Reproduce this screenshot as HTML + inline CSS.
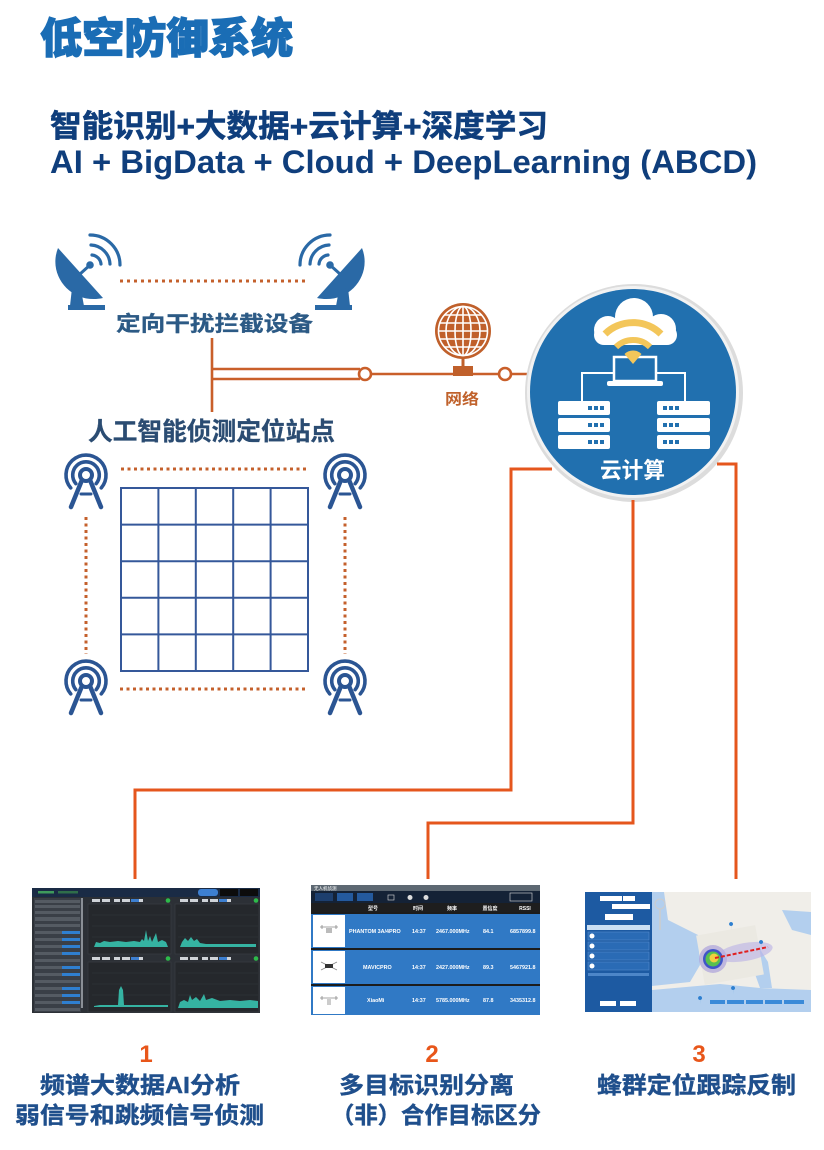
<!DOCTYPE html>
<html><head><meta charset="utf-8"><style>
html,body{margin:0;padding:0;background:#fff;}
svg{display:block;}
text{font-family:"Liberation Sans","Noto Sans CJK SC",sans-serif;font-weight:bold;}
</style></head><body>
<svg width="824" height="1150" viewBox="0 0 824 1150" xmlns="http://www.w3.org/2000/svg">
<rect width="824" height="1150" fill="#fff"/>

<!-- Titles -->
<text x="40" y="53" font-size="42" fill="#1a6db5" stroke="#1a6db5" stroke-width="1.2" textLength="253" lengthAdjust="spacingAndGlyphs" style="font-weight:900">低空防御系统</text>
<text x="50" y="137" font-size="31" fill="#0f3e7c" stroke="#0f3e7c" stroke-width="0.6" textLength="498" lengthAdjust="spacingAndGlyphs">智能识别+大数据+云计算+深度学习</text>
<text x="50" y="173" font-size="32" fill="#0f3e7c" textLength="707" lengthAdjust="spacingAndGlyphs">AI + BigData + Cloud + DeepLearning (ABCD)</text>

<!-- Dishes -->
<g>
 <g transform="translate(50,228)" fill="#2a69a6" stroke="#2a69a6">
  <path d="M8,20 C-3,48 22,77 53,70 Z" stroke="none"/>
  <line x1="30" y1="46" x2="40" y2="37" stroke-width="3"/>
  <circle cx="40" cy="37" r="3.8" stroke="none"/>
  <path d="M22,60 L31,62 L34,78 L20,78 Z" stroke="none"/>
  <rect x="18" y="77" width="37" height="5" stroke="none"/>
  <g fill="none" stroke-width="3.2" stroke-linecap="round">
   <path d="M40,7 A30,30 0 0 1 70,37"/>
   <path d="M41,17 A20,20 0 0 1 60,36"/>
   <path d="M42,27 A10,10 0 0 1 51,36"/>
  </g>
 </g>
</g>
<g transform="translate(420,0) scale(-1,1)">
 <g transform="translate(50,228)" fill="#2a69a6" stroke="#2a69a6">
  <path d="M8,20 C-3,48 22,77 53,70 Z" stroke="none"/>
  <line x1="30" y1="46" x2="40" y2="37" stroke-width="3"/>
  <circle cx="40" cy="37" r="3.8" stroke="none"/>
  <path d="M22,60 L31,62 L34,78 L20,78 Z" stroke="none"/>
  <rect x="18" y="77" width="37" height="5" stroke="none"/>
  <g fill="none" stroke-width="3.2" stroke-linecap="round">
   <path d="M40,7 A30,30 0 0 1 70,37"/>
   <path d="M41,17 A20,20 0 0 1 60,36"/>
   <path d="M42,27 A10,10 0 0 1 51,36"/>
  </g>
 </g>
</g>
<line x1="120" y1="281" x2="307" y2="281" stroke="#c4602c" stroke-width="3" stroke-dasharray="3 4"/>
<text x="116" y="331" font-size="21" fill="#2c5a85" stroke="#2c5a85" stroke-width="0.3" textLength="197" lengthAdjust="spacingAndGlyphs">定向干扰拦截设备</text>

<!-- T connector -->
<g stroke="#c95f2a" stroke-width="2.6" fill="none">
 <line x1="212" y1="338" x2="212" y2="412"/>
 <line x1="212" y1="369" x2="360" y2="369"/>
 <line x1="212" y1="379" x2="360" y2="379"/>
 <line x1="371" y1="374" x2="453" y2="374"/>
 <line x1="473" y1="374" x2="499" y2="374"/>
 <line x1="511" y1="374" x2="528" y2="374"/>
</g>
<circle cx="365" cy="374" r="6" fill="#fff" stroke="#c95f2a" stroke-width="2.6"/>
<circle cx="505" cy="374" r="6" fill="#fff" stroke="#c95f2a" stroke-width="2.6"/>

<!-- Globe -->
<g transform="translate(463,331)">
 <circle r="28" fill="#c0602b"/>
 <g fill="none" stroke="#fff" stroke-width="1.6">
  <circle r="24.5"/>
  <ellipse rx="8" ry="24.5"/>
  <ellipse rx="17" ry="24.5"/>
  <line x1="0" y1="-24.5" x2="0" y2="24.5"/>
  <line x1="-19" y1="-16" x2="19" y2="-16"/>
  <line x1="-23.5" y1="-8" x2="23.5" y2="-8"/>
  <line x1="-24.5" y1="0" x2="24.5" y2="0"/>
  <line x1="-23.5" y1="8" x2="23.5" y2="8"/>
  <line x1="-19" y1="16" x2="19" y2="16"/>
 </g>
</g>
<line x1="463" y1="358" x2="463" y2="367" stroke="#c0602b" stroke-width="3"/>
<rect x="453" y="366" width="20" height="10" fill="#c0602b"/>
<text x="445" y="404" font-size="15" fill="#c0622c" textLength="34" lengthAdjust="spacingAndGlyphs">网络</text>

<!-- Cloud circle -->
<circle cx="634" cy="393" r="109" fill="#dcdcdc"/>
<circle cx="633" cy="392" r="106" fill="#f2f2f2"/>
<circle cx="633" cy="392" r="103" fill="#2170af"/>
<g fill="#fff">
 <circle cx="608" cy="330" r="14"/>
 <circle cx="634" cy="317" r="19"/>
 <circle cx="661" cy="329" r="15"/>
 <rect x="594" y="325" width="83" height="20" rx="10"/>
</g>
<rect x="614" y="357" width="42" height="24" fill="#2170af" stroke="#fff" stroke-width="2.5"/>
<rect x="607" y="381" width="56" height="5" rx="2" fill="#fff"/>
<g fill="none" stroke="#f3c65a" stroke-linecap="butt">
 <path d="M605,334 A40,40 0 0 1 661,334" stroke-width="7"/>
 <path d="M616,347 A24,24 0 0 1 650,347" stroke-width="6"/>
</g>
<path d="M633,364 L624.5,354 A12,12 0 0 1 641.5,354 Z" fill="#f3c65a"/>
<g fill="none" stroke="#fff" stroke-width="2">
 <path d="M614,373 H582 V401"/>
 <path d="M656,373 H685 V401"/>
</g>
<g fill="#fff">
 <rect x="558" y="401" width="52" height="14" rx="2"/>
 <rect x="558" y="418" width="52" height="14" rx="2"/>
 <rect x="558" y="435" width="52" height="14" rx="2"/>
 <rect x="657" y="401" width="53" height="14" rx="2"/>
 <rect x="657" y="418" width="53" height="14" rx="2"/>
 <rect x="657" y="435" width="53" height="14" rx="2"/>
</g>
<g fill="#2170af">
 <rect x="588" y="406" width="4" height="4"/><rect x="594" y="406" width="4" height="4"/><rect x="600" y="406" width="4" height="4"/>
 <rect x="588" y="423" width="4" height="4"/><rect x="594" y="423" width="4" height="4"/><rect x="600" y="423" width="4" height="4"/>
 <rect x="588" y="440" width="4" height="4"/><rect x="594" y="440" width="4" height="4"/><rect x="600" y="440" width="4" height="4"/>
 <rect x="663" y="406" width="4" height="4"/><rect x="669" y="406" width="4" height="4"/><rect x="675" y="406" width="4" height="4"/>
 <rect x="663" y="423" width="4" height="4"/><rect x="669" y="423" width="4" height="4"/><rect x="675" y="423" width="4" height="4"/>
 <rect x="663" y="440" width="4" height="4"/><rect x="669" y="440" width="4" height="4"/><rect x="675" y="440" width="4" height="4"/>
</g>
<text x="600" y="478" font-size="22" fill="#fff" textLength="65" lengthAdjust="spacingAndGlyphs">云计算</text>

<!-- Station label -->
<text x="88" y="440" font-size="25" fill="#2b4c72" stroke="#2b4c72" stroke-width="0.3" textLength="247" lengthAdjust="spacingAndGlyphs">人工智能侦测定位站点</text>

<!-- Towers -->
<defs>
 <g id="tower" fill="none" stroke="#2b5593" stroke-linecap="round">
  <circle r="6" stroke-width="4"/>
  <path d="M-15.3,12.9 A20,20 0 1 1 15.3,12.9" stroke-width="3.6"/>
  <path d="M-10.2,8.6 A13.3,13.3 0 1 1 10.2,8.6" stroke-width="3.6"/>
  <path d="M-4,5 L-15,32 M4,5 L15,32" stroke-width="4.5"/>
  <line x1="-5" y1="19" x2="5" y2="19" stroke-width="3"/>
 </g>
</defs>
<use href="#tower" x="86" y="475"/>
<use href="#tower" x="345" y="475"/>
<use href="#tower" x="86" y="681"/>
<use href="#tower" x="345" y="681"/>
<g stroke="#c4602c" stroke-width="3" stroke-dasharray="3 3.5">
 <line x1="121" y1="469" x2="308" y2="469"/>
 <line x1="120" y1="689" x2="308" y2="689"/>
 <line x1="86" y1="517" x2="86" y2="654"/>
 <line x1="345" y1="517" x2="345" y2="654"/>
</g>
<!-- Grid -->
<g stroke="#35589a" stroke-width="2" fill="none">
 <rect x="121" y="488" width="187" height="183"/>
 <line x1="158.4" y1="488" x2="158.4" y2="671"/>
 <line x1="195.8" y1="488" x2="195.8" y2="671"/>
 <line x1="233.2" y1="488" x2="233.2" y2="671"/>
 <line x1="270.6" y1="488" x2="270.6" y2="671"/>
 <line x1="121" y1="524.6" x2="308" y2="524.6"/>
 <line x1="121" y1="561.2" x2="308" y2="561.2"/>
 <line x1="121" y1="597.8" x2="308" y2="597.8"/>
 <line x1="121" y1="634.4" x2="308" y2="634.4"/>
</g>

<!-- Orange connectors -->
<g stroke="#e5561d" stroke-width="3" fill="none">
 <path d="M552,469 H511 V790 H135 V879"/>
 <path d="M633,500 V823 H428 V879"/>
 <path d="M717,464 H736 V879"/>
</g>

<!-- Screenshot 1 -->
<g>
 <rect x="32" y="888" width="228" height="125" fill="#2c3036"/>
 <rect x="32" y="888" width="228" height="9" fill="#1a2b45"/>
 <rect x="38" y="891" width="16" height="2.5" fill="#3f9a5c"/>
 <rect x="58" y="891" width="20" height="2.5" fill="#2f6e4a"/>
 <rect x="198" y="889" width="20" height="7" rx="3" fill="#3d7fd0"/>
 <rect x="220" y="889" width="18" height="7" fill="#0c0c0c"/>
 <rect x="240" y="889" width="18" height="7" fill="#0c0c0c"/>
 <rect x="34" y="898" width="47" height="114" fill="#3a3f47"/>
 <g fill="#555b63">
  <rect x="35" y="900" width="45" height="3"/><rect x="35" y="905" width="45" height="3"/><rect x="35" y="911" width="45" height="3"/>
  <rect x="35" y="917" width="45" height="4"/><rect x="35" y="924" width="45" height="3"/><rect x="35" y="931" width="45" height="3"/>
  <rect x="35" y="938" width="45" height="3"/><rect x="35" y="945" width="45" height="3"/><rect x="35" y="952" width="45" height="3"/>
  <rect x="35" y="959" width="45" height="3"/><rect x="35" y="966" width="45" height="3"/><rect x="35" y="973" width="45" height="3"/>
  <rect x="35" y="980" width="45" height="3"/><rect x="35" y="987" width="45" height="3"/><rect x="35" y="994" width="45" height="3"/>
  <rect x="35" y="1001" width="45" height="3"/><rect x="35" y="1008" width="45" height="3"/>
 </g>
 <g fill="#2f7fd0">
  <rect x="62" y="931" width="18" height="3"/><rect x="62" y="938" width="18" height="3"/><rect x="62" y="945" width="18" height="3"/>
  <rect x="62" y="952" width="18" height="3"/><rect x="62" y="966" width="18" height="3"/><rect x="62" y="973" width="18" height="3"/>
  <rect x="62" y="987" width="18" height="3"/><rect x="62" y="994" width="18" height="3"/><rect x="62" y="1001" width="18" height="3"/>
 </g>
 <rect x="81" y="898" width="2" height="110" fill="#8a8f96"/>
 <g fill="#25282c" stroke="#3c4046" stroke-width="0.6">
  <rect x="88" y="904" width="83" height="50"/>
  <rect x="175" y="904" width="84" height="50"/>
  <rect x="88" y="962" width="83" height="50"/>
  <rect x="175" y="962" width="84" height="50"/>
 </g>
 <g fill="#cfd3d8">
  <rect x="92" y="899" width="8" height="3"/><rect x="102" y="899" width="8" height="3"/><rect x="114" y="899" width="6" height="3"/><rect x="122" y="899" width="8" height="3"/><rect x="139" y="899" width="4" height="3"/>
  <rect x="180" y="899" width="8" height="3"/><rect x="190" y="899" width="8" height="3"/><rect x="202" y="899" width="6" height="3"/><rect x="210" y="899" width="8" height="3"/><rect x="227" y="899" width="4" height="3"/>
  <rect x="92" y="957" width="8" height="3"/><rect x="102" y="957" width="8" height="3"/><rect x="114" y="957" width="6" height="3"/><rect x="122" y="957" width="8" height="3"/><rect x="139" y="957" width="4" height="3"/>
  <rect x="180" y="957" width="8" height="3"/><rect x="190" y="957" width="8" height="3"/><rect x="202" y="957" width="6" height="3"/><rect x="210" y="957" width="8" height="3"/><rect x="227" y="957" width="4" height="3"/>
 </g>
 <g fill="#3d7fd0">
  <rect x="131" y="899" width="8" height="3"/><rect x="219" y="899" width="8" height="3"/>
  <rect x="131" y="957" width="8" height="3"/><rect x="219" y="957" width="8" height="3"/>
 </g>
 <g fill="#2dbb4a">
  <circle cx="168" cy="900.5" r="2.3"/><circle cx="256" cy="900.5" r="2.3"/>
  <circle cx="168" cy="958.5" r="2.3"/><circle cx="256" cy="958.5" r="2.3"/>
 </g>
 <g stroke="#33373c" stroke-width="0.5">
  <line x1="92" y1="915" x2="170" y2="915"/><line x1="92" y1="926" x2="170" y2="926"/><line x1="92" y1="937" x2="170" y2="937"/>
  <line x1="178" y1="915" x2="258" y2="915"/><line x1="178" y1="926" x2="258" y2="926"/><line x1="178" y1="937" x2="258" y2="937"/>
  <line x1="92" y1="973" x2="170" y2="973"/><line x1="92" y1="984" x2="170" y2="984"/><line x1="92" y1="995" x2="170" y2="995"/>
  <line x1="178" y1="973" x2="258" y2="973"/><line x1="178" y1="984" x2="258" y2="984"/><line x1="178" y1="995" x2="258" y2="995"/>
 </g>
 <g fill="#35b3a2">
  <path d="M94,947 L96,942 L100,943 L104,941 L110,942 L118,941 L126,942 L134,941 L140,942 L142,939 L144,941 L146,930 L148,941 L150,936 L152,942 L156,933 L158,942 L162,940 L166,942 L168,947 Z"/>
  <path d="M180,947 L182,942 L185,938 L188,941 L191,937 L194,941 L197,939 L200,943 L206,944 L214,944 L222,944 L232,944 L242,944 L256,944 L256,947 Z"/>
  <path d="M94,1006 L100,1005 L110,1005 L118,1005 L119,990 L121,986 L123,990 L124,1005 L132,1005 L150,1005 L168,1005 L168,1007 L94,1007 Z"/>
  <path d="M178,1008 L180,1002 L184,1000 L188,1002 L190,995 L192,1000 L196,997 L200,1001 L204,994 L206,1000 L212,998 L220,1001 L230,1000 L240,1001 L250,1000 L258,1001 L258,1008 Z"/>
 </g>
</g>

<!-- Screenshot 2 -->
<g>
 <rect x="311" y="885" width="229" height="130" fill="#1c1c1c"/>
 <rect x="311" y="885" width="229" height="6" fill="#5d6872"/>
 <text x="314" y="890" font-size="4.5" fill="#fff" style="font-weight:normal">无人机侦测</text>
 <rect x="311" y="891" width="229" height="12" fill="#142236"/>
 <rect x="315" y="893" width="18" height="8" fill="#1d3f6e"/>
 <rect x="337" y="893" width="16" height="8" fill="#245a9e"/>
 <rect x="357" y="893" width="16" height="8" fill="#245a9e"/>
 <rect x="388" y="895" width="6" height="5" fill="none" stroke="#ddd" stroke-width="0.6"/>
 <circle cx="410" cy="897.5" r="2.5" fill="#ddd"/><circle cx="426" cy="897.5" r="2.5" fill="#ddd"/>
 <rect x="510" y="893" width="22" height="8" fill="none" stroke="#ddd" stroke-width="0.6"/>
 <rect x="311" y="903" width="229" height="9" fill="#1e1e1e"/>
 <g font-size="5" fill="#fff" text-anchor="middle">
  <text x="373" y="910">型号</text><text x="418" y="910">时间</text><text x="452" y="910">频率</text><text x="490" y="910">置信度</text><text x="525" y="910">RSSI</text>
 </g>
 <rect x="311" y="914" width="229" height="34" fill="#3079c5"/>
 <rect x="311" y="950" width="229" height="34" fill="#3079c5"/>
 <rect x="311" y="986" width="229" height="29" fill="#3079c5"/>
 <rect x="313" y="915" width="32" height="32" fill="#fff"/>
 <rect x="313" y="951" width="32" height="32" fill="#fff"/>
 <rect x="313" y="987" width="32" height="27" fill="#fff"/>
 <g stroke="#888" stroke-width="0.8" fill="none">
  <path d="M320,927 H338 M322,925 V929 M336,925 V929"/>
  <path d="M321,962 L329,966 L337,962 M321,970 L329,966 L337,970"/>
  <path d="M320,998 H338 M322,996 V1000 M336,996 V1000"/>
 </g>
 <rect x="326" y="928" width="6" height="5" fill="#bbb"/>
 <rect x="325" y="964" width="8" height="4" fill="#333"/>
 <rect x="327" y="999" width="4" height="6" fill="#ccc"/>
 <g font-size="5.4" fill="#fff">
  <text x="349" y="933">PHANTOM 3A/4PRO</text><text x="412" y="933">14:37</text><text x="436" y="933">2467.000MHz</text><text x="483" y="933">84.1</text><text x="510" y="933">6857899.8</text>
  <text x="363" y="969">MAVICPRO</text><text x="412" y="969">14:37</text><text x="436" y="969">2427.000MHz</text><text x="483" y="969">89.3</text><text x="510" y="969">5467921.8</text>
  <text x="367" y="1002">XiaoMi</text><text x="412" y="1002">14:37</text><text x="436" y="1002">5785.000MHz</text><text x="483" y="1002">87.8</text><text x="510" y="1002">3435312.8</text>
 </g>
</g>

<!-- Screenshot 3 -->
<g>
 <rect x="585" y="892" width="226" height="120" fill="#f0eee9"/>
 <rect x="585" y="892" width="67" height="120" fill="#1d5aa2"/>
 <rect x="600" y="896" width="22" height="5" fill="#fff"/><rect x="623" y="896" width="12" height="5" fill="#fff"/>
 <rect x="612" y="904" width="38" height="5" fill="#fff"/>
 <rect x="605" y="914" width="28" height="6" fill="#fff"/>
 <rect x="587" y="925" width="63" height="5" fill="#c9def3"/>
 <g fill="#2a6bb5" stroke="#5d8fcf" stroke-width="0.5">
  <rect x="588" y="932" width="61" height="8"/><rect x="588" y="942" width="61" height="8"/>
  <rect x="588" y="952" width="61" height="8"/><rect x="588" y="962" width="61" height="8"/>
 </g>
 <g fill="#fff"><circle cx="592" cy="936" r="2.5"/><circle cx="592" cy="946" r="2.5"/><circle cx="592" cy="956" r="2.5"/><circle cx="592" cy="966" r="2.5"/></g>
 <rect x="588" y="973" width="61" height="3" fill="#4d86c8"/>
 <rect x="600" y="1001" width="16" height="5" fill="#fff"/><rect x="620" y="1001" width="16" height="5" fill="#fff"/>
 <g fill="#b3cfee">
  <path d="M652,892 L664,892 L668,920 L698,935 L700,965 L690,982 L652,986 Z"/>
  <path d="M652,990 L720,984 L760,988 L811,990 L811,1012 L652,1012 Z"/>
  <path d="M735,942 L758,946 L768,962 L772,988 L760,988 L750,960 Z"/>
  <path d="M782,910 L811,912 L811,935 L792,930 Z"/>
 </g>
 <rect x="700" y="930" width="60" height="50" fill="#ebe9e2" transform="rotate(-10 730 955)"/>
 <circle cx="713" cy="959" r="14" fill="#9a8ed8" opacity="0.55"/>
 <ellipse cx="745" cy="952" rx="28" ry="9" fill="#b9b1e6" opacity="0.6" transform="rotate(-10 745 952)"/>
 <circle cx="713" cy="959" r="10" fill="#3f55c8"/>
 <circle cx="713" cy="959" r="7.5" fill="#58c050"/>
 <circle cx="714" cy="958" r="4.5" fill="#f0d040"/>
 <line x1="715" y1="958" x2="768" y2="947" stroke="#e02020" stroke-width="2" stroke-dasharray="4 2"/>
 <g fill="#2d7fd0">
  <path d="M731,926 a2,2 0 1 1 0.1,0 v4 z"/><path d="M761,944 a2,2 0 1 1 0.1,0 v4 z"/>
  <path d="M733,990 a2,2 0 1 1 0.1,0 v4 z"/><path d="M700,1000 a2,2 0 1 1 0.1,0 v4 z"/>
 </g>
 <g fill="#3a8ad8">
  <rect x="710" y="1000" width="15" height="4"/><rect x="727" y="1000" width="17" height="4"/><rect x="746" y="1000" width="17" height="4"/>
  <rect x="765" y="1000" width="17" height="4"/><rect x="784" y="1000" width="20" height="4"/>
 </g>
 <circle cx="660" cy="904" r="5" fill="none" stroke="#ccc" stroke-width="1"/>
 <line x1="660" y1="909" x2="660" y2="930" stroke="#ccc" stroke-width="1.5"/>
</g>

<!-- Bottom labels -->
<g font-size="24" fill="#e8561a" text-anchor="middle">
 <text x="146" y="1062">1</text>
 <text x="432" y="1062">2</text>
 <text x="699" y="1062">3</text>
</g>
<g font-size="23" fill="#1f4f8c" stroke="#1f4f8c" stroke-width="0.4">
 <text x="40" y="1093" textLength="200" lengthAdjust="spacingAndGlyphs">频谱大数据AI分析</text>
 <text x="15" y="1123" textLength="249" lengthAdjust="spacingAndGlyphs">弱信号和跳频信号侦测</text>
 <text x="339" y="1093" textLength="175" lengthAdjust="spacingAndGlyphs">多目标识别分离</text>
 <text x="331" y="1123" textLength="210" lengthAdjust="spacingAndGlyphs">（非）合作目标区分</text>
 <text x="597" y="1093" textLength="199" lengthAdjust="spacingAndGlyphs">蜂群定位跟踪反制</text>
</g>
</svg>
</body></html>
